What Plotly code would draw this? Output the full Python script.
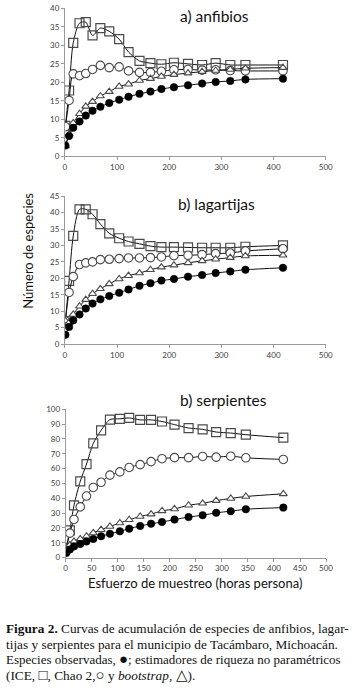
import plotly.graph_objects as go

W, H = 362, 689

# --- data -------------------------------------------------------------
esfuerzo = [1, 8, 16, 28, 40, 53, 68, 85, 104, 122, 143, 164, 185, 209, 236, 263, 289, 317, 346, 418]

anf_obs = [2.9, 5.5, 7.7, 9.4, 11.0, 12.3, 13.4, 14.4, 15.3, 16.1, 16.9, 17.5, 18.2, 18.7, 19.2, 19.7, 20.1, 20.4, 20.8, 21.0]
anf_ice = [8.2, 17.8, 30.7, 36.0, 36.3, 32.7, 34.7, 33.8, 31.7, 28.2, 25.8, 25.2, 24.9, 25.3, 25.0, 24.7, 25.2, 24.7, 24.7, 24.7]
anf_chao = [8.0, 15.1, 22.3, 21.8, 22.4, 23.5, 24.6, 24.0, 24.2, 23.1, 22.7, 22.7, 23.0, 23.4, 23.5, 23.3, 23.4, 23.2, 23.1, 23.1]
anf_boot = [2.8, 6.0, 9.0, 11.5, 13.5, 14.8, 16.3, 17.5, 18.9, 19.5, 20.5, 21.0, 21.6, 22.1, 22.5, 22.9, 23.2, 23.5, 23.8, 24.0]

lag_obs = [2.8, 5.2, 7.2, 9.0, 10.8, 12.3, 13.6, 14.6, 15.6, 16.6, 17.7, 18.5, 19.3, 19.8, 20.5, 21.0, 21.6, 22.1, 22.6, 23.2]
lag_ice = [7.0, 19.2, 32.9, 41.0, 41.0, 39.5, 36.5, 33.7, 32.2, 31.2, 30.5, 29.8, 29.5, 29.5, 29.4, 29.3, 29.3, 29.3, 29.6, 30.0]
lag_chao = [7.0, 15.7, 20.5, 24.2, 24.7, 25.0, 25.7, 25.8, 26.0, 26.2, 26.2, 26.3, 26.5, 26.9, 27.0, 27.2, 27.5, 27.7, 28.3, 29.0]
lag_boot = [7.0, 6.5, 9.0, 11.5, 13.5, 15.3, 16.8, 18.3, 19.8, 20.8, 21.6, 22.6, 23.4, 24.0, 24.7, 25.3, 25.8, 26.3, 26.8, 27.0]

ser_obs = [3.0, 5.5, 7.5, 9.2, 10.9, 12.6, 14.4, 16.0, 17.7, 19.5, 21.3, 22.8, 24.0, 25.6, 27.3, 28.6, 30.2, 31.3, 32.6, 33.7]
ser_ice = [6.5, 18.4, 35.2, 51.4, 63.1, 77.0, 85.8, 93.1, 93.6, 94.2, 92.9, 92.9, 91.8, 89.7, 87.4, 86.5, 84.7, 84.0, 82.9, 80.9]
ser_chao = [6.0, 16.5, 25.7, 34.2, 41.5, 47.3, 50.8, 55.6, 57.8, 60.8, 62.7, 64.7, 66.7, 67.4, 67.4, 68.2, 67.8, 68.4, 67.3, 66.2]
ser_boot = [5.0, 8.5, 10.9, 12.6, 14.4, 16.6, 18.8, 21.0, 23.3, 25.5, 27.7, 29.3, 31.5, 32.8, 35.3, 36.6, 38.4, 39.9, 41.2, 43.0]

paneles = ["a) anfibios", "b) lagartijas", "b) serpientes"]
y_max = [40, 45, 100]
y_step = [5, 5, 10]
x_step = [100, 100, 50]

series = [
    (anf_ice, anf_chao, anf_boot, anf_obs),
    (lag_ice, lag_chao, lag_boot, lag_obs),
    (ser_ice, ser_chao, ser_boot, ser_obs),
]

# --- layout helpers (pixel -> paper) ---------------------------------
def px(x):
    return x / W

def py(y):
    return (H - y) / H

# plot areas: (x0, x1, y_zero_px, y_top_px)
areas = [
    (64.5, 332.0, 153.5, 3.5),
    (64.5, 332.0, 344.0, 194.0),
    (65.3, 332.3, 560.7, 410.3),
]

fig = go.Figure()
GRAY_EDGE = "#4a4a4a"
LINE = "#111111"

for i, (ice, chao, boot, obs) in enumerate(series):
    xa = "x" if i == 0 else f"x{i+1}"
    ya = "y" if i == 0 else f"y{i+1}"
    common = dict(x=esfuerzo, xaxis=xa, yaxis=ya, mode="lines+markers",
                  line=dict(color=LINE, width=1, shape="spline", smoothing=0.8),
                  showlegend=False, hoverinfo="skip")
    fig.add_trace(go.Scatter(y=ice, marker=dict(symbol="square-open", size=9, color=GRAY_EDGE,
                                                line=dict(width=1.2)), **common))
    fig.add_trace(go.Scatter(y=chao, marker=dict(symbol="circle", size=8.5, color="white",
                                                 line=dict(width=1.1, color=GRAY_EDGE)), **common))
    fig.add_trace(go.Scatter(y=boot, marker=dict(symbol="triangle-up", size=7, color="white",
                                                 line=dict(width=1.1, color=GRAY_EDGE)), **common))
    fig.add_trace(go.Scatter(y=obs, marker=dict(symbol="circle", size=7.5, color="black",
                                                line=dict(width=0.5, color="black")), **common))

layout = dict(width=W, height=H, margin=dict(l=0, r=0, t=0, b=0),
              paper_bgcolor="white", plot_bgcolor="white",
              font=dict(family="Lato, Open Sans, sans-serif", color="#404040", size=8))

for i in range(3):
    x0, x1, yz, yt = areas[i]
    xk = "xaxis" if i == 0 else f"xaxis{i+1}"
    yk = "yaxis" if i == 0 else f"yaxis{i+1}"
    ya = "y" if i == 0 else f"y{i+1}"
    xa = "x" if i == 0 else f"x{i+1}"
    layout[xk] = dict(domain=[px(x0), px(x1)], anchor=ya, range=[0, 500], dtick=x_step[i], tick0=0,
                      showgrid=False, zeroline=False, showline=True, linecolor="#9a9a9a", linewidth=1,
                      ticks="outside", ticklen=3, tickcolor="#9a9a9a",
                      tickfont=dict(size=8, color="#404040"), fixedrange=True)
    layout[yk] = dict(domain=[py(yz), py(yt)], anchor=xa, range=[0, y_max[i]], dtick=y_step[i], tick0=0,
                      showgrid=False, zeroline=False, showline=True, linecolor="#9a9a9a", linewidth=1,
                      ticks="outside", ticklen=3, tickcolor="#9a9a9a",
                      tickfont=dict(size=8, color="#404040"), fixedrange=True)

fig.update_layout(**layout)

ann = []
title_pos = [(218, 11), (220, 202), (227, 401)]
for t, (tx, ty) in zip(paneles, title_pos):
    ann.append(dict(text=t, x=px(tx), y=py(ty), xref="paper", yref="paper", showarrow=False,
                    xanchor="center", yanchor="middle",
                    font=dict(family="Lato, Open Sans, sans-serif", size=15.5, color="#111111")))

ann.append(dict(text="Número de especies", x=px(27), y=py(249), xref="paper", yref="paper",
                showarrow=False, textangle=-90, xanchor="center", yanchor="middle",
                font=dict(family="Lato, Open Sans, sans-serif", size=13, color="#111111")))
ann.append(dict(text="Esfuerzo de muestreo (horas persona)", x=px(197.5), y=py(587), xref="paper",
                yref="paper", showarrow=False, xanchor="center", yanchor="middle",
                font=dict(family="Lato, Open Sans, sans-serif", size=13, color="#111111")))

caption = [
    "<b>Figura 2.</b> Curvas de acumulación de especies de anfibios, lagar-",
    "tijas y serpientes para el municipio de Tacámbaro, Michoacán.",
    "Especies observadas, <span style=\"font-size:15px\">●</span>; estimadores de riqueza no paramétricos",
    "(ICE, <span style=\"font-size:15px\">□</span>, Chao 2,<span style=\"font-size:15px\">○</span> y <i>bootstrap</i>, <span style=\"font-size:15px\">△</span>).",
]
cap_y = [633, 649, 664, 680]
cap_size = [13.3, 13.3, 13.0, 13.3]
for line, cy, cs in zip(caption, cap_y, cap_size):
    ann.append(dict(text=line, x=px(2), y=py(cy), xref="paper", yref="paper", showarrow=False,
                    xanchor="left", yanchor="middle",
                    font=dict(family="Liberation Serif, Times New Roman, serif", size=cs, color="#111111")))

fig.update_layout(annotations=ann)
fig.write_html("out.html", config={"displayModeBar": False},
               post_script="document.body.style.margin='0';document.body.style.padding='0';")
